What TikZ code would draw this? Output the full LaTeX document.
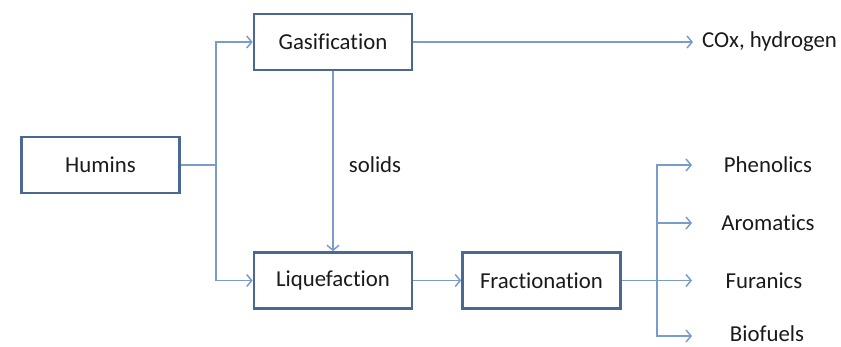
\documentclass[tikz,border=0pt]{standalone}
\usepackage{fontspec}
\setmainfont[Ligatures={NoCommon}]{Carlito}
\usetikzlibrary{arrows.meta}
\definecolor{boxc}{HTML}{4A6893}
\definecolor{linec}{HTML}{7B9CCB}
\definecolor{txtc}{HTML}{1A1A1A}
\begin{document}
\begin{tikzpicture}[x=1pt,y=-1pt,
  procbox/.style={draw=boxc,line width=2.6pt,minimum width=158pt,minimum height=56pt,inner sep=0pt,text=txtc,font=\fontsize{22.8}{27}\selectfont},
  lbl/.style={text=txtc,font=\fontsize{22.8}{27}\selectfont,inner sep=0pt},
  conn/.style={draw=linec,line width=1.5pt},
  arr/.style={conn,-{Straight Barb[length=5pt,width=12pt,line width=1.5pt]}}]
\useasboundingbox (0,0) rectangle (841,346);
\node[procbox] (hum) at (100.5,165) {Humins};
\node[procbox] (gas) at (333,42) {Gasification};
\node[procbox] (liq) at (333,280.5) {Liquefaction};
\node[procbox] (fra) at (541.5,280.5) {Fractionation};
\node[lbl,anchor=west] (cox) at (702,42) {COx, hydrogen};
\node[lbl] (sol) at (375,165) {solids};
\node[lbl] (phe) at (768,165) {Phenolics};
\node[lbl] (aro) at (768,223) {Aromatics};
\node[lbl] (fur) at (764,281) {Furanics};
\node[lbl] (bio) at (767,334) {Biofuels};
\coordinate (j1) at (216,165);
\coordinate (j2) at (657,280.5);
\draw[conn] (hum.east) -- (j1);
\draw[arr] (j1) |- (gas.west);
\draw[arr] (j1) |- (liq.west);
\draw[arr] (gas.south) -- (liq.north);
\draw[arr] (gas.east) -- ([xshift=-9pt]cox.west);
\draw[arr] (liq.east) -- (fra.west);
\draw[conn] (fra.east) -- (j2);
\draw[arr] (j2) |- (692,165);
\draw[arr] (j2) |- (692,223);
\draw[arr] (j2) -- (692,280.5);
\draw[arr] (j2) |- (692,336);
\end{tikzpicture}
\end{document}
